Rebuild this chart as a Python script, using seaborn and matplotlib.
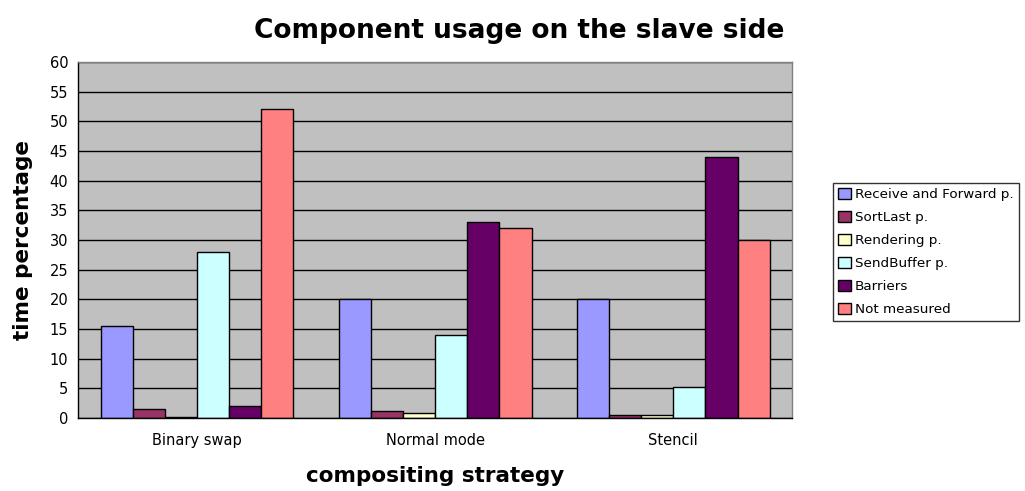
import pandas as pd
import seaborn as sns
import matplotlib.pyplot as plt
from matplotlib.ticker import MultipleLocator, FixedLocator

# === DATA ===
strategies = ["Binary swap", "Normal mode", "Stencil"]
components = ["Receive and Forward p.", "SortLast p.", "Rendering p.",
              "SendBuffer p.", "Barriers", "Not measured"]
receive_forward = [15.5, 20, 20]
sortlast = [1.5, 1.2, 0.5]
rendering = [0.2, 0.8, 0.5]
sendbuffer = [28, 14, 5.2]
barriers = [2, 33, 44]
not_measured = [52, 32, 30]

colors = ["#9999FF", "#993366", "#FFFFCC", "#CCFFFF", "#660066", "#FF8080"]

# === LONG TABLE ===
series = [receive_forward, sortlast, rendering, sendbuffer, barriers, not_measured]
rows = []
for comp, vals in zip(components, series):
    for strat, v in zip(strategies, vals):
        rows.append({"strategy": strat, "component": comp, "value": v})
df = pd.DataFrame(rows)

sns.set_theme(style="white")
plt.rcParams['font.family'] = ['DejaVu Sans']
plt.rcParams['text.color'] = "black"
plt.rcParams['axes.labelcolor'] = "black"
plt.rcParams['xtick.color'] = "black"
plt.rcParams['ytick.color'] = "black"

fig = plt.figure(figsize=(10.25, 4.91), dpi=100)
ax = fig.add_axes([0.076, 0.149, 0.697, 0.725])
ax.set_facecolor("#C0C0C0")
ax.set_axisbelow(True)

sns.barplot(data=df, x="strategy", y="value", hue="component",
            order=strategies, hue_order=components, palette=colors,
            width=0.81, edgecolor="black", linewidth=1, saturation=1, ax=ax)

ax.set_ylim(0, 60)
ax.set_xlim(-0.5, 2.5)
ax.yaxis.set_major_locator(MultipleLocator(5))
ax.yaxis.grid(True, color="black", linewidth=1)
ax.xaxis.grid(False)

# category ticks at boundaries
ax.xaxis.set_minor_locator(FixedLocator([-0.5, 0.5, 1.5, 2.5]))
ax.tick_params(axis="x", which="major", length=0, labelsize=10.5, pad=11)
ax.tick_params(axis="x", which="minor", length=6, width=1, color="black", direction="out")
ax.tick_params(axis="y", length=5, width=1, color="black", direction="out", labelsize=10.5, pad=2)

for side in ["top", "right"]:
    ax.spines[side].set_color("#808080")
    ax.spines[side].set_linewidth(1)
for side in ["left", "bottom"]:
    ax.spines[side].set_color("black")
    ax.spines[side].set_linewidth(1)

ax.set_xlabel("compositing strategy", fontsize=15.5, fontweight="bold", labelpad=13)
ax.set_ylabel("time percentage", fontsize=15.5, fontweight="bold", labelpad=12)

fig.text(0.507, 0.937, "Component usage on the slave side",
         ha="center", va="center", fontsize=19, fontweight="bold")

leg = ax.legend(loc="center left", bbox_to_anchor=(1.057, 0.466), frameon=True,
                fancybox=False, fontsize=9.7, handlelength=0.9, handleheight=0.9,
                handletextpad=0.3, labelspacing=0.72, borderpad=0.4,
                borderaxespad=0)
leg.get_frame().set_edgecolor("black")
leg.get_frame().set_linewidth(1)
leg.set_title(None)

fig.savefig("out.png", dpi=100)
